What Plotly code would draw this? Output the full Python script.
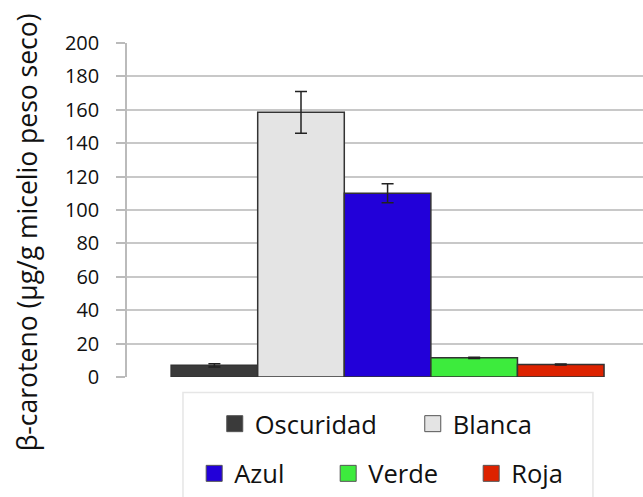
import plotly.graph_objects as go

categories = ["Oscuridad", "Blanca", "Azul", "Verde", "Roja"]
values = [7.0, 158.5, 110.0, 11.5, 7.5]
errors = [1.0, 12.5, 5.7, 0.4, 0.3]
colors = ["#3a3a3a", "#e4e4e4", "#2200d9", "#3deb3d", "#dd2200"]
legend_rows = ["legend", "legend", "legend2", "legend2", "legend2"]
legend_widths = [153, 80, 89, 98, 60]
y_ticks = [0, 20, 40, 60, 80, 100, 120, 140, 160, 180, 200]
y_title = "β-caroteno (µg/g micelio peso seco)"

FONT = "Open Sans"

fig = go.Figure()
for name, v, e, c in zip(categories, values, errors, colors):
    fig.add_bar(
        x=[0], y=[v], name=name, showlegend=False,
        marker=dict(color=c, line=dict(color="#333333", width=1.5)),
        error_y=dict(type="data", array=[e], color="#222222", thickness=1.5, width=6),
    )
for name, c, lg, lw in zip(categories, colors, legend_rows, legend_widths):
    fig.add_scatter(
        x=[None], y=[None], mode="markers", name=name, legend=lg, legendwidth=lw,
        marker=dict(symbol="square", size=17, color=c, line=dict(color="#555555", width=1)),
    )

fig.update_layout(
    width=643, height=497,
    margin=dict(l=127, r=0, t=43, b=120),
    paper_bgcolor="white", plot_bgcolor="white",
    barmode="group", bargap=0.161,
    font=dict(family=FONT, color="#111111"),
    xaxis=dict(range=[-0.505, 0.495], visible=False),
    yaxis=dict(
        range=[0, 200], tickvals=y_ticks, showgrid=True, gridcolor="#c8c8c8", gridwidth=1.5,
        showline=True, linecolor="#bbbbbb", linewidth=1.5, zeroline=False,
        ticks="outside", ticklen=9, tickcolor="#bbbbbb", tickwidth=1.5,
        tickfont=dict(size=20, family=FONT, color="#111111"), ticklabelstandoff=13,
    ),
    legend=dict(
        orientation="h", xref="container", yref="container", x=0.334, y=0.194,
        xanchor="left", yanchor="top", font=dict(size=25.5, family=FONT, color="#111111"),
        bgcolor="rgba(0,0,0,0)", itemsizing="trace",
    ),
    legend2=dict(
        orientation="h", xref="container", yref="container", x=0.302, y=0.094,
        xanchor="left", yanchor="top", font=dict(size=25.5, family=FONT, color="#111111"),
        bgcolor="rgba(0,0,0,0)", itemsizing="trace",
    ),
    shapes=[dict(
        type="rect", xref="paper", yref="paper",
        x0=0.1085, x1=0.903, y0=-0.0463, y1=-0.5,
        line=dict(color="#e6e6e6", width=1.5), fillcolor="rgba(0,0,0,0)", layer="below",
    )],
    annotations=[dict(
        text=y_title, xref="paper", yref="paper", x=-0.194, y=0.433,
        textangle=-90, showarrow=False, xanchor="center", yanchor="middle",
        font=dict(size=26.5, family=FONT, color="#111111"),
    )],
)

fig.write_html(
    "out.html",
    config={"displayModeBar": False},
    post_script="document.body.style.margin='0';",
)
